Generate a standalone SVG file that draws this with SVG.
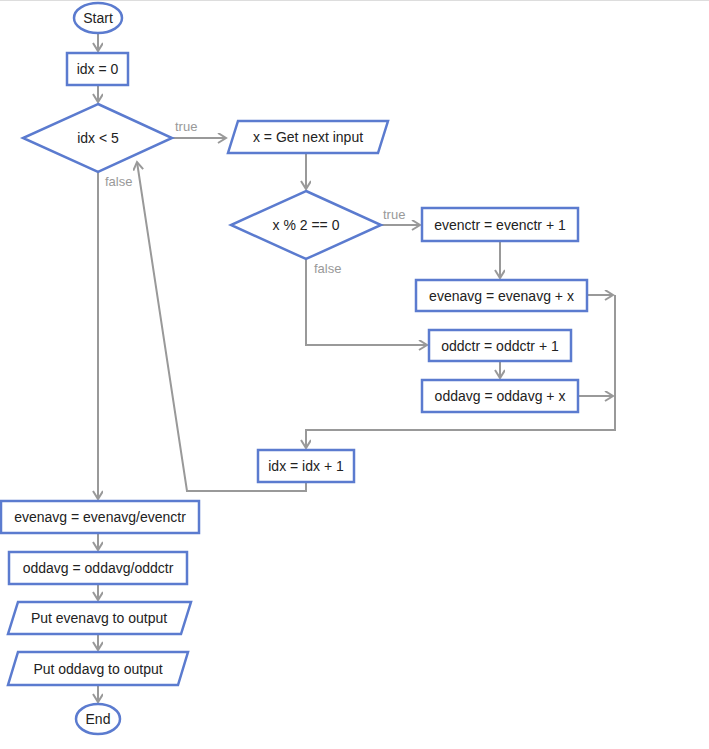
<svg xmlns="http://www.w3.org/2000/svg" width="709" height="749" viewBox="0 0 709 749">
<style>
.n{fill:#fff;stroke:#5b7bcf;stroke-width:2.5}
.t{font-family:"Liberation Sans",Arial,sans-serif;font-size:14px;fill:#222;text-anchor:middle;dominant-baseline:central}
.l{font-family:"Liberation Sans",Arial,sans-serif;font-size:13px;fill:#999}
.c{fill:none;stroke:#999;stroke-width:2}
</style>
<defs><marker id="a" markerWidth="12" markerHeight="12" refX="9" refY="5" orient="auto" markerUnits="userSpaceOnUse"><path d="M1,0 L9,5 L1,10" fill="none" stroke="#999" stroke-width="2"/></marker></defs>
<rect width="709" height="749" fill="#fff"/>
<line x1="0" y1="0.5" x2="709" y2="0.5" stroke="#ddd"/>
<g id="connectors">
<path class="c" d="M98,33 V51" marker-end="url(#a)"/>
<path class="c" d="M98,85 V102" marker-end="url(#a)"/>
<path class="c" d="M172,138 H226" marker-end="url(#a)"/>
<path class="c" d="M306,153 V189" marker-end="url(#a)"/>
<path class="c" d="M381,225 H420" marker-end="url(#a)"/>
<path class="c" d="M500,241 V278" marker-end="url(#a)"/>
<path class="c" d="M306,259 V345 H427" marker-end="url(#a)"/>
<path class="c" d="M500,361 V378" marker-end="url(#a)"/>
<path class="c" d="M587,295 H613" marker-end="url(#a)"/>
<path class="c" d="M578,396 H613" marker-end="url(#a)"/>
<path class="c" d="M615,295 V430 H306 V448" marker-end="url(#a)"/>
<path class="c" d="M306,482 V491 H187 L137,162" marker-end="url(#a)"/>
<path class="c" d="M98,172 V499" marker-end="url(#a)"/>
<path class="c" d="M98,533 V550" marker-end="url(#a)"/>
<path class="c" d="M98,584 V600" marker-end="url(#a)"/>
<path class="c" d="M98,634 V650" marker-end="url(#a)"/>
<path class="c" d="M98,685 V702" marker-end="url(#a)"/>
<text class="l" x="175" y="131">true</text>
<text class="l" x="105" y="186">false</text>
<text class="l" x="383" y="219">true</text>
<text class="l" x="314" y="273">false</text>
</g>
<g id="start"><ellipse class="n" cx="98" cy="18" rx="24" ry="15"/><text class="t" x="98" y="18">Start</text></g>
<g id="init"><rect class="n" x="67" y="53" width="61" height="32"/><text class="t" x="97.5" y="69">idx = 0</text></g>
<g id="cond1"><polygon class="n" points="98,104 172,138 98,172 23,138"/><text class="t" x="98" y="138">idx &lt; 5</text></g>
<g id="input"><polygon class="n" points="238,121 388,121 378,153 228,153"/><text class="t" x="308" y="137">x = Get next input</text></g>
<g id="cond2"><polygon class="n" points="306,191 381,225 306,259 231,225"/><text class="t" x="306" y="225">x % 2 == 0</text></g>
<g id="evenctr"><rect class="n" x="422" y="208" width="156" height="33"/><text class="t" x="500" y="224.5">evenctr = evenctr + 1</text></g>
<g id="evenavg"><rect class="n" x="416" y="280" width="171" height="31"/><text class="t" x="501.5" y="295.5">evenavg = evenavg + x</text></g>
<g id="oddctr"><rect class="n" x="429" y="330" width="142" height="31"/><text class="t" x="500" y="345.5">oddctr = oddctr + 1</text></g>
<g id="oddavg"><rect class="n" x="422" y="380" width="156" height="32"/><text class="t" x="500" y="396">oddavg = oddavg + x</text></g>
<g id="inc"><rect class="n" x="258" y="450" width="96" height="32"/><text class="t" x="306" y="466">idx = idx + 1</text></g>
<g id="evendiv"><rect class="n" x="1" y="501" width="198" height="32"/><text class="t" x="100" y="517">evenavg = evenavg/evenctr</text></g>
<g id="odddiv"><rect class="n" x="9" y="552" width="178" height="32"/><text class="t" x="98" y="568">oddavg = oddavg/oddctr</text></g>
<g id="out1"><polygon class="n" points="18,602 191,602 181,634 8,634"/><text class="t" x="99" y="618">Put evenavg to output</text></g>
<g id="out2"><polygon class="n" points="18,652 188,652 178,685 8,685"/><text class="t" x="98" y="668.5">Put oddavg to output</text></g>
<g id="end"><ellipse class="n" cx="98" cy="719" rx="22" ry="15"/><text class="t" x="98" y="719">End</text></g>
</svg>
